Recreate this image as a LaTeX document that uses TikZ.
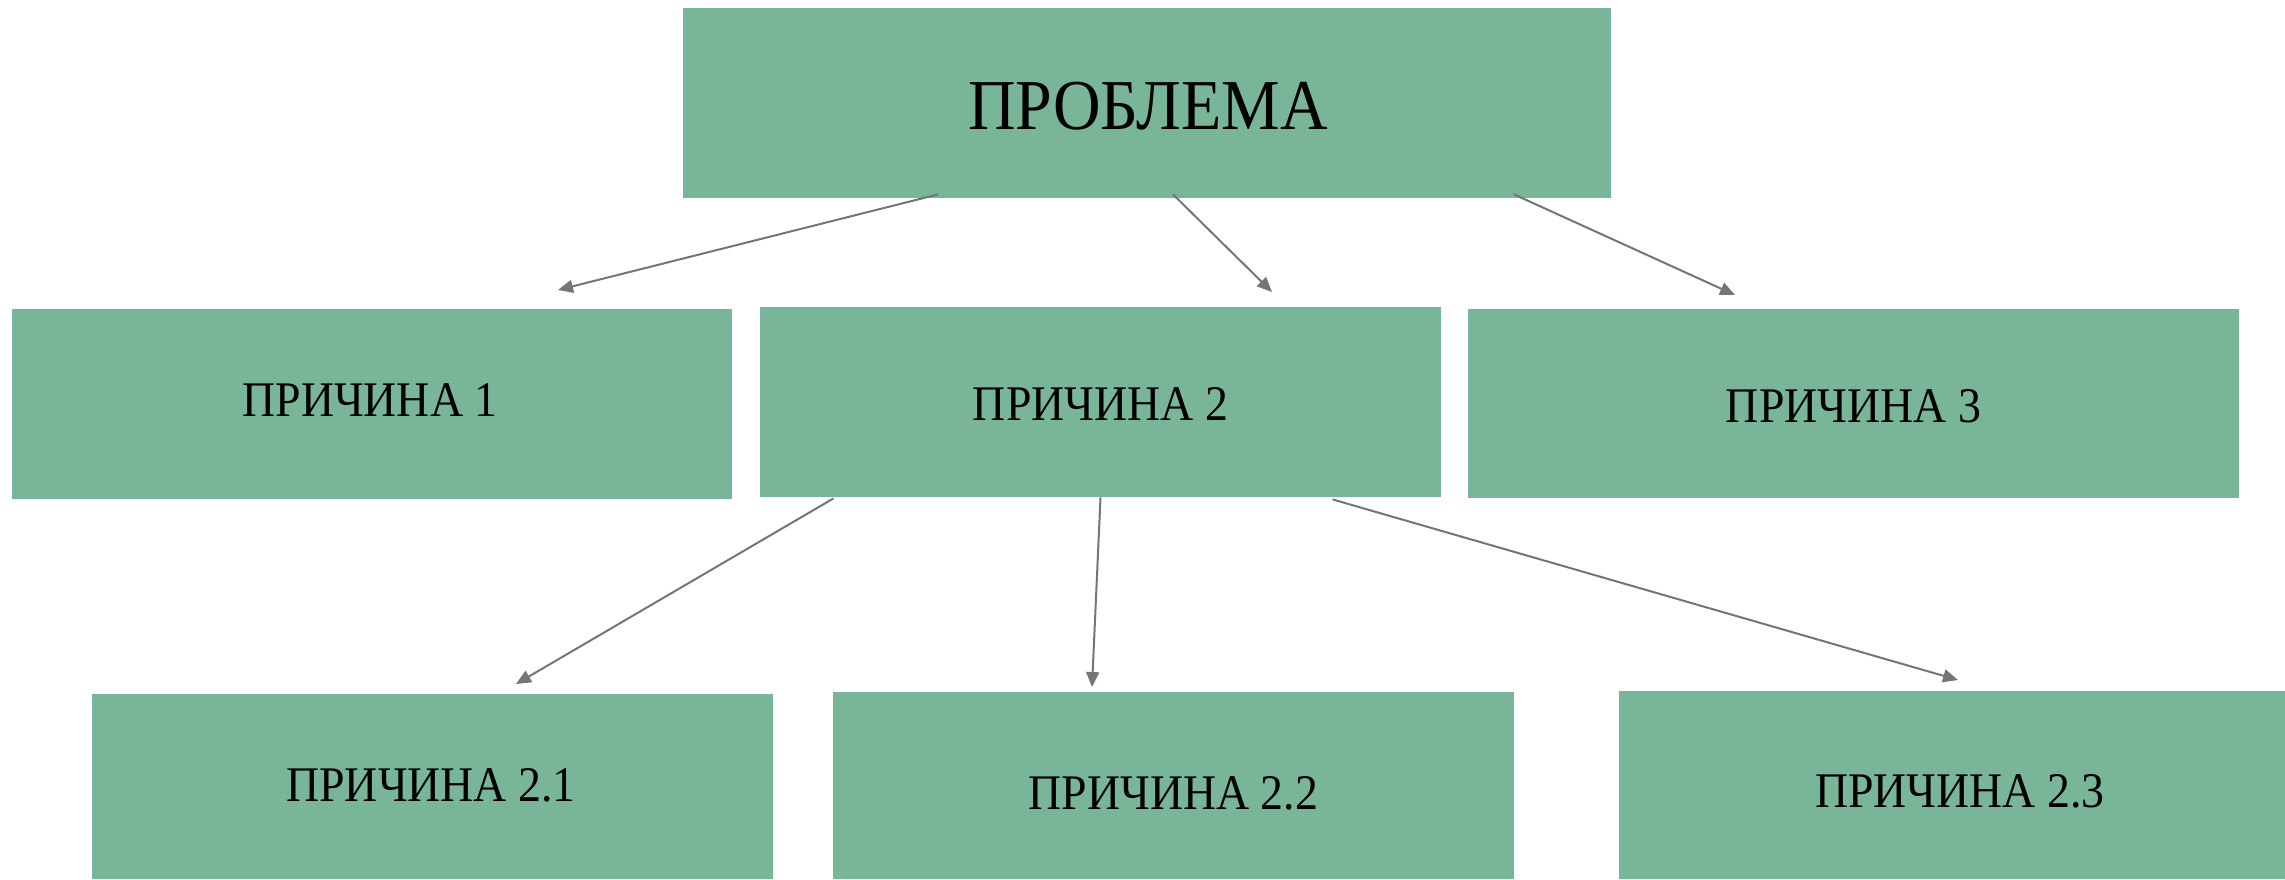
\documentclass[tikz,border=0pt]{standalone}
\usepackage{fontspec}
\setmainfont{Liberation Serif}[FakeStretch=0.92]
\usetikzlibrary{arrows.meta,calc}
\definecolor{boxgreen}{RGB}{121,181,152}
\definecolor{arrowgray}{RGB}{118,116,116}
\tikzset{
  box/.style={fill=boxgreen, draw=none, inner sep=0pt, anchor=center},
  boxtext/.style={text=black, font=\fontsize{24.9}{30}\selectfont, inner sep=0pt},
  conn/.style={draw=arrowgray, line width=1pt, -{Triangle[length=7.5pt,width=6.5pt]}},
}
\begin{document}
\begin{tikzpicture}[x=0.5pt,y=-0.5pt]
\useasboundingbox (0,0) rectangle (2285,879);
\node[box, minimum width=464pt, minimum height=95pt,
  label={[boxtext, font=\fontsize{35.8}{40}\selectfont, xshift=0.5pt, yshift=-1.5pt]center:ПРОБЛЕМА}] (top) at (1147,103) {};
\node[box, minimum width=360pt, minimum height=95pt,
  label={[boxtext, xshift=-1pt, yshift=2pt]center:ПРИЧИНА 1}] (c1) at (372,404) {};
\node[box, minimum width=340.5pt, minimum height=95pt,
  label={[boxtext, yshift=-1pt]center:ПРИЧИНА 2}] (c2) at (1100.5,402) {};
\node[box, minimum width=385.5pt, minimum height=94.5pt,
  label={[boxtext, yshift=-1.2pt]center:ПРИЧИНА 3}] (c3) at (1853.5,403.5) {};
\node[box, minimum width=340.5pt, minimum height=92.5pt,
  label={[boxtext, xshift=-0.7pt, yshift=0.7pt]center:ПРИЧИНА 2.1}] (c21) at (432.5,786.5) {};
\node[box, minimum width=340.5pt, minimum height=93.5pt,
  label={[boxtext, yshift=-3.7pt]center:ПРИЧИНА 2.2}] (c22) at (1173.5,785.5) {};
\node[box, minimum width=333pt, minimum height=94pt,
  label={[boxtext, xshift=4pt, yshift=-3pt]center:ПРИЧИНА 2.3}] (c23) at (1952,785) {};
\coordinate (e1) at (558,290);
\coordinate (e2) at (1272,292);
\coordinate (e3) at (1735,295);
\coordinate (e21) at (516,684);
\coordinate (e22) at (1092,687);
\coordinate (e23) at (1958,680);
\draw[conn] ([xshift=-104.5pt,yshift=2pt]top.south) -- (e1);
\draw[conn] ([xshift=13pt,yshift=2pt]top.south) -- (e2);
\draw[conn] ([xshift=183.5pt,yshift=2pt]top.south) -- (e3);
\draw[conn] ([xshift=-133.5pt,yshift=-0.5pt]c2.south) -- (e21);
\draw[conn] ([xshift=0pt,yshift=0pt]c2.south) -- (e22);
\draw[conn] ([xshift=116pt,yshift=-1pt]c2.south) -- (e23);
\end{tikzpicture}
\end{document}
